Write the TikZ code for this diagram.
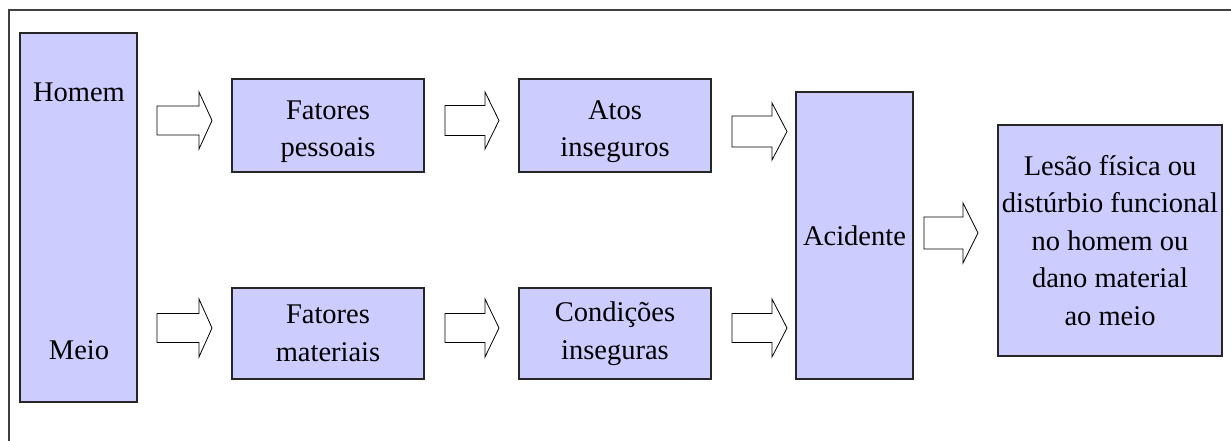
\documentclass[tikz,border=0pt]{standalone}
\usepackage{fontspec}
\setmainfont{Liberation Serif}
\newfontfamily\tnr{Liberation Serif}
\begin{document}
\begin{tikzpicture}[x=1pt,y=-1pt,
  box/.style={draw=black!85,line width=1.1pt,fill=boxfill,inner sep=0pt,align=center,
    font=\tnr\fontsize{28.5}{37.5}\selectfont},
  txt/.style={inner sep=0pt,align=center,font=\tnr\fontsize{28.5}{37.5}\selectfont},
  arrowstyle/.style={draw=black,line width=0.8pt,fill=white,line join=miter},
  frame/.style={draw=black!75,line width=1.2pt}]
\definecolor{boxfill}{HTML}{CCCCFF}
\useasboundingbox (0,0) rectangle (1231,441);
\fill[white] (0,0) rectangle (1231,441);
% outer frame (top and left edges visible)
\draw[frame] (1231,10) -- (9,10) -- (9,441);
% boxes
\node[box,minimum width=117pt,minimum height=369pt] (hm) at (78.5,217.5) {};
\node[txt,anchor=base] (homem) at (79,102) {Homem};
\node[txt,anchor=base] (meio) at (79,359) {Meio};
\node[box,minimum width=192pt,minimum height=93pt] (fp) at (328,125.5) {};
\node[txt] (fptext) at (328,131.5) {Fatores\\pessoais};
\node[box,minimum width=192pt,minimum height=91pt] (fm) at (328,333.5) {Fatores\\materiais};
\node[box,minimum width=192pt,minimum height=93pt] (atos) at (615,125.5) {};
\node[txt] (atostext) at (615,131.5) {Atos\\inseguros};
\node[box,minimum width=192pt,minimum height=91pt] (cond) at (615,333.5) {Condições\\inseguras};
\node[box,minimum width=117pt,minimum height=287pt] (acid) at (854.5,235.5) {Acidente};
\node[box,minimum width=224pt,minimum height=231pt] (lesao) at (1110,240.5)
  {Lesão física ou\\distúrbio funcional\\no homem ou\\dano material\\ao meio};
% block arrows: \blockarr{x start}{y center}{length}{head length}{shaft half}{head half}
\newcommand\blockarr[6]{%
  \draw[arrowstyle] (#1,#2-#5) -- (#1+#3-#4,#2-#5) -- (#1+#3-#4,#2-#6) -- (#1+#3,#2)
    -- (#1+#3-#4,#2+#6) -- (#1+#3-#4,#2+#5) -- (#1,#2+#5) -- cycle;}
\blockarr{157}{120.5}{55}{13}{14.5}{28.5}
\blockarr{445}{120.5}{54}{14}{15}{28.5}
\blockarr{732}{131.5}{55}{15}{15.5}{28.5}
\blockarr{157}{328}{55}{13}{14.5}{29}
\blockarr{445}{328}{54}{14}{14.5}{29}
\blockarr{732}{328}{55}{15}{14.5}{29}
\blockarr{924}{233}{54}{15}{16}{30}
\end{tikzpicture}
\end{document}
